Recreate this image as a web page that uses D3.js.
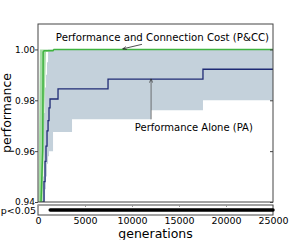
<!DOCTYPE html>
<html>
<head>
<meta charset="utf-8">
<script src="https://cdn.jsdelivr.net/npm/d3@7"></script>
<style>
  body { margin: 0; background: #fff; }
  svg { display: block; font-family: "DejaVu Sans", sans-serif; }
</style>
</head>
<body>
<div id="chart"></div>
<script>
// ticks
var yTicks = [0.94, 0.96, 0.98, 1.00];
var xTicks = [0, 5000, 10000, 15000, 20000, 25000];

// Performance and Connection Cost (P&CC): median + IQR
var pccGen = [0, 100, 200, 320, 430, 500, 550, 650, 750, 850, 1600, 1700, 25000];
var pccMed = [0.90, 0.91, 0.925, 0.94, 0.952, 0.96, 0.999, 0.9995, 0.9995, 0.9995, 0.9995, 1.0, 1.0];
var pccLo  = [0.88, 0.89, 0.90, 0.915, 0.93, 0.94, 0.95, 0.97, 0.985, 0.999, 0.9995, 1.0, 1.0];
var pccHi  = [0.93, 0.96, 1.0, 1.0, 1.0, 1.0, 1.0, 1.0, 1.0, 1.0, 1.0, 1.0, 1.0];

// Performance Alone (PA): median + IQR (step data)
var paGen = [0, 530, 640, 750, 850, 960, 1070, 1170, 1280, 1600, 2130, 3620, 7450, 12020, 17550, 25000];
var paMed = [0.90, 0.94, 0.948, 0.956, 0.962, 0.968, 0.972, 0.977, 0.9805, 0.9805, 0.9845, 0.9845, 0.9883, 0.9883, 0.9922, 0.9922];
var paLo  = [0.88, 0.90, 0.94, 0.945, 0.95, 0.955, 0.958, 0.96, 0.96, 0.9675, 0.9675, 0.9725, 0.9725, 0.9761, 0.980, 0.980];
var paHi  = [0.92, 0.95, 0.975, 0.985, 0.99, 0.995, 1.0, 1.0, 1.0, 1.0, 1.0, 1.0, 1.0, 1.0, 1.0, 1.0];

// generations where P&CC > PA is significant (p<0.05)
var sigStart = [1300];
var sigEnd = [25000];

var svgWidth = 304, svgHeight = 240;
var pLeft = 38, pRight = 273, pTop = 24, pBottom = 202;
var subTop = 205, subBottom = 215;

var svg = d3.select("#chart").append("svg")
  .attr("width", svgWidth)
  .attr("height", svgHeight);

var x = d3.scaleLinear().domain([0, 25000]).range([pLeft, pRight]);
var y = d3.scaleLinear().domain([0.94, 1.01]).range([pBottom, pTop]);

svg.append("clipPath").attr("id", "clip")
  .append("rect")
  .attr("x", pLeft).attr("y", pTop)
  .attr("width", pRight - pLeft).attr("height", pBottom - pTop);

var plot = svg.append("g").attr("clip-path", "url(#clip)");

var pa = paGen.map(function (g, i) { return {g: g, m: paMed[i], lo: paLo[i], hi: paHi[i]}; });
var pcc = pccGen.map(function (g, i) { return {g: g, m: pccMed[i], lo: pccLo[i], hi: pccHi[i]}; });

// PA band
plot.append("path")
  .datum(pa)
  .attr("fill", "#c4d1db")
  .attr("d", d3.area().curve(d3.curveStepAfter)
    .x(function (d) { return x(d.g); })
    .y0(function (d) { return y(d.lo); })
    .y1(function (d) { return y(d.hi); }));

// P&CC band
plot.append("path")
  .datum(pcc)
  .attr("fill", "#a6dca6")
  .attr("d", d3.area()
    .x(function (d) { return x(d.g); })
    .y0(function (d) { return y(d.lo); })
    .y1(function (d) { return y(d.hi); }));

// PA median
plot.append("path")
  .datum(pa)
  .attr("fill", "none")
  .attr("stroke", "#1f2b75")
  .attr("stroke-width", 1.3)
  .attr("d", d3.line().curve(d3.curveStepAfter)
    .x(function (d) { return x(d.g); })
    .y(function (d) { return y(d.m); }));

// P&CC median
plot.append("path")
  .datum(pcc)
  .attr("fill", "none")
  .attr("stroke", "#3fb33f")
  .attr("stroke-width", 1.5)
  .attr("d", d3.line()
    .x(function (d) { return x(d.g); })
    .y(function (d) { return y(d.m); }));

// frame + ticks of main plot
svg.append("rect")
  .attr("x", pLeft).attr("y", pTop)
  .attr("width", pRight - pLeft).attr("height", pBottom - pTop)
  .attr("fill", "none").attr("stroke", "#444").attr("stroke-width", 1);

svg.append("g")
  .attr("transform", "translate(" + pLeft + ",0)")
  .call(d3.axisLeft(y).tickValues(yTicks).tickSize(3).tickPadding(0).tickFormat(d3.format(".2f")))
  .call(function (g) {
    g.select(".domain").remove();
    g.selectAll("line").attr("stroke", "#444");
    g.selectAll("text").attr("font-size", 9).attr("fill", "#000").attr("font-family", "DejaVu Sans");
  });

svg.append("g")
  .attr("transform", "translate(" + pRight + ",0)")
  .call(d3.axisLeft(y).tickValues(yTicks).tickSize(3).tickFormat(""))
  .call(function (g) {
    g.select(".domain").remove();
    g.selectAll("line").attr("stroke", "#444");
  });

// annotations
var marker = svg.append("defs").append("marker")
  .attr("id", "arrow")
  .attr("viewBox", "0 0 10 10")
  .attr("refX", 10).attr("refY", 5)
  .attr("markerWidth", 5).attr("markerHeight", 5)
  .attr("orient", "auto");
marker.append("path")
  .attr("d", "M0,1 L10,5 L0,9")
  .attr("fill", "none").attr("stroke", "#222").attr("stroke-width", 1.5);

svg.append("line")
  .attr("x1", x(11060)).attr("y1", y(1.0020))
  .attr("x2", x(9000)).attr("y2", y(1.0002))
  .attr("stroke", "#222").attr("stroke-width", 0.8)
  .attr("marker-end", "url(#arrow)");

svg.append("text")
  .attr("x", x(1900)).attr("y", y(1.0035))
  .attr("font-size", 10.2)
  .text("Performance and Connection Cost (P&CC)");

svg.append("line")
  .attr("x1", x(12030)).attr("y1", y(0.9725))
  .attr("x2", x(12030)).attr("y2", y(0.9885))
  .attr("stroke", "#555").attr("stroke-width", 0.8)
  .attr("marker-end", "url(#arrow)");

svg.append("text")
  .attr("x", x(10300)).attr("y", y(0.9678))
  .attr("font-size", 10)
  .text("Performance Alone (PA)");

svg.append("text")
  .attr("transform", "translate(11," + ((pTop + pBottom) / 2) + ") rotate(-90)")
  .attr("text-anchor", "middle")
  .attr("font-size", 12.5)
  .text("performance");

// significance subplot
var sub = svg.append("g");
sub.append("rect")
  .attr("x", pLeft).attr("y", subTop)
  .attr("width", pRight - pLeft).attr("height", subBottom - subTop)
  .attr("fill", "none").attr("stroke", "#444").attr("stroke-width", 1);

sub.selectAll(".sig")
  .data(sigStart)
  .enter().append("line")
  .attr("x1", function (d) { return x(d); })
  .attr("x2", function (d, i) { return x(sigEnd[i]); })
  .attr("y1", (subTop + subBottom) / 2)
  .attr("y2", (subTop + subBottom) / 2)
  .attr("stroke", "#000").attr("stroke-width", 3.5)
  .attr("stroke-linecap", "round");

sub.append("g")
  .attr("transform", "translate(0," + subTop + ")")
  .call(d3.axisTop(x).tickValues(xTicks).tickSize(-2).tickFormat(""))
  .call(function (g) {
    g.select(".domain").remove();
    g.selectAll("line").attr("stroke", "#999");
  });

sub.append("g")
  .attr("transform", "translate(0," + subBottom + ")")
  .call(d3.axisBottom(x).tickValues(xTicks).tickSize(0).tickPadding(2).tickFormat(d3.format("d")))
  .call(function (g) {
    g.select(".domain").remove();
    g.selectAll("text").attr("font-size", 9.5).attr("fill", "#000").attr("font-family", "DejaVu Sans");
  });

svg.append("text")
  .attr("x", pLeft - 2).attr("y", (subTop + subBottom) / 2 + 3.5)
  .attr("text-anchor", "end")
  .attr("font-size", 9.5)
  .text("p<0.05");

svg.append("text")
  .attr("x", (pLeft + pRight) / 2).attr("y", 238)
  .attr("text-anchor", "middle")
  .attr("font-size", 12.5)
  .text("generations");
</script>
</body>
</html>
